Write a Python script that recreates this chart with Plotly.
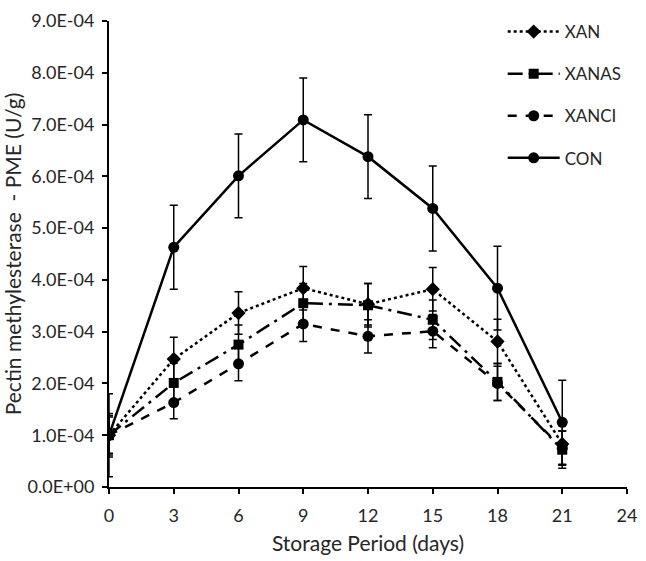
import plotly.graph_objects as go

days = [0, 3, 6, 9, 12, 15, 18, 21]

xan = [1.0e-4, 2.47e-4, 3.36e-4, 3.84e-4, 3.53e-4, 3.82e-4, 2.81e-4, 0.83e-4]
xan_err = [0.42e-4, 0.42e-4, 0.41e-4, 0.42e-4, 0.40e-4, 0.42e-4, 0.43e-4, 0.40e-4]

xanas = [1.0e-4, 2.01e-4, 2.75e-4, 3.55e-4, 3.51e-4, 3.23e-4, 2.03e-4, 0.72e-4]
xanas_err = [0.38e-4, 0.38e-4, 0.38e-4, 0.38e-4, 0.42e-4, 0.38e-4, 0.36e-4, 0.36e-4]

xanci = [1.0e-4, 1.63e-4, 2.38e-4, 3.15e-4, 2.91e-4, 3.01e-4, 2.00e-4, 0.75e-4]
xanci_err = [0.35e-4, 0.31e-4, 0.33e-4, 0.34e-4, 0.32e-4, 0.32e-4, 0.33e-4, 0.33e-4]

con = [1.0e-4, 4.63e-4, 6.01e-4, 7.09e-4, 6.38e-4, 5.38e-4, 3.84e-4, 1.25e-4]
con_err = [0.80e-4, 0.81e-4, 0.81e-4, 0.81e-4, 0.81e-4, 0.82e-4, 0.81e-4, 0.81e-4]

y_tickvals = [0, 1e-4, 2e-4, 3e-4, 4e-4, 5e-4, 6e-4, 7e-4, 8e-4, 9e-4]
y_ticktext = ["0.0E+00", "1.0E-04", "2.0E-04", "3.0E-04", "4.0E-04",
              "5.0E-04", "6.0E-04", "7.0E-04", "8.0E-04", "9.0E-04"]
x_tickvals = [0, 3, 6, 9, 12, 15, 18, 21, 24]

FONT = "Lato"
series = [
    ("XAN", xan, xan_err, "dot", "diamond", 11),
    ("XANAS", xanas, xanas_err, "longdashdot", "square", 10),
    ("XANCI", xanci, xanci_err, "dash", "circle", 11),
    ("CON", con, con_err, "solid", "circle", 11),
]

fig = go.Figure()
for name, vals, errs, dash, sym, size in series:
    fig.add_trace(go.Scatter(
        x=days, y=vals, name=name, mode="lines+markers",
        legendgroup=name,
        line=dict(color="black", width=2.5, dash=dash),
        marker=dict(color="black", symbol=sym, size=size),
        error_y=dict(type="data", array=errs, visible=True,
                     color="black", thickness=1.5, width=4),
    ))

fig.update_layout(
    width=646, height=561,
    margin=dict(l=106, r=12, t=9, b=65),
    paper_bgcolor="white", plot_bgcolor="white",
    font=dict(family=FONT, color="#262626", size=18),
    showlegend=True,
    legend=dict(
        x=0.76, y=1.015, xanchor="left", yanchor="top",
        bgcolor="rgba(0,0,0,0)", font=dict(size=17, family=FONT, color="#262626"),
        tracegroupgap=17, itemwidth=52,
    ),
    xaxis=dict(
        range=[0, 24.00001], tickvals=x_tickvals, showgrid=False, zeroline=False,
        showline=True, linecolor="black", linewidth=2,
        ticks="outside", ticklen=5, tickcolor="black", tickwidth=2,
        tickfont=dict(size=18), ticklabelstandoff=6, ticklabeloverflow="allow",
        title=dict(text="Storage Period (days)", font=dict(size=21), standoff=12),
    ),
    yaxis=dict(
        range=[0, 9.00001e-4], tickvals=y_tickvals, ticktext=y_ticktext,
        showgrid=False, zeroline=False,
        showline=True, linecolor="black", linewidth=2,
        ticks="outside", ticklen=5, tickcolor="black", tickwidth=2,
        tickfont=dict(size=18), ticklabelstandoff=4, ticklabeloverflow="allow",
        title=dict(text="Pectin methylesterase  - PME (U/g)", font=dict(size=21), standoff=4),
    ),
)

fig.write_html("out.html", config={"displayModeBar": False},
               post_script="document.body.style.margin='0';document.body.style.overflow='hidden';")
